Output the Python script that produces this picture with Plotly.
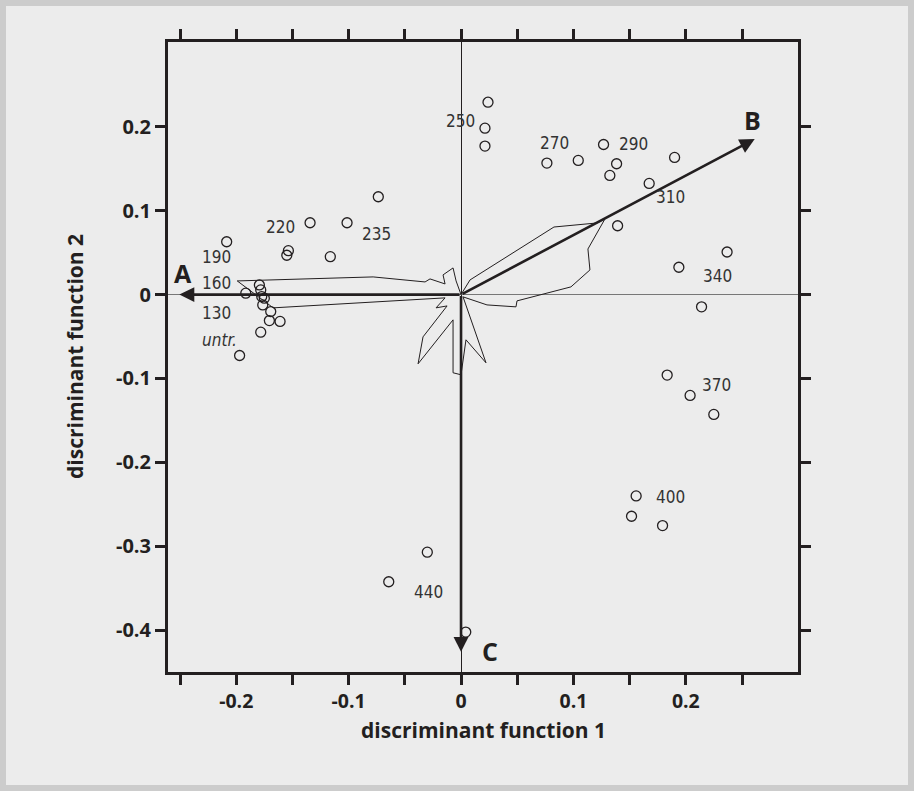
import plotly.graph_objects as go

# ---- data ----
pt_x = [-0.2085, -0.1915, -0.1794, -0.1782, -0.1773, -0.1750, -0.1764, -0.1693, -0.1705, -0.1610, -0.1782, -0.1970,
        -0.1536, -0.1550, -0.1343, -0.1014, -0.1163, -0.0736,
        0.0240, 0.0213, 0.0213,
        0.0764, 0.1043, 0.1268, 0.1384, 0.1324, 0.1900, 0.1674, 0.1393,
        0.2367, 0.1938, 0.2140,
        0.1834, 0.2038, 0.2249,
        0.1558, 0.1517, 0.1793,
        -0.0300, -0.0643, 0.0042]
pt_y = [0.0630, 0.0017, 0.0115, 0.0056, -0.0024, -0.0043, -0.0123, -0.0202, -0.0310, -0.0320, -0.0448, -0.0726,
        0.0524, 0.0469, 0.0857, 0.0857, 0.0452, 0.1167,
        0.2294, 0.1985, 0.1771,
        0.1568, 0.1600, 0.1790, 0.1560, 0.1421, 0.1636, 0.1326, 0.0821,
        0.0508, 0.0326, -0.0146,
        -0.0960, -0.1202, -0.1429,
        -0.2400, -0.2643, -0.2754,
        -0.3071, -0.3424, -0.4024]

poly_x = [0, 0.0080, 0.0827, 0.1209, 0.1280, 0.1129, 0.1147, 0.0978, 0.0498, 0.0489, 0.0231, 0.0018,
          0.0222, 0.0044, 0.0, -0.0071, -0.0071, -0.0382, -0.0338, -0.0124, -0.0222, -0.0142,
          -0.1671, -0.1902, -0.1991, -0.0782, -0.0320, -0.0276, -0.0142, -0.0160, -0.0071, -0.0044, 0]
poly_y = [0, 0.0175, 0.0806, 0.0854, 0.0901, 0.0544, 0.0294, 0.0092, -0.0075, -0.0146, -0.0123, -0.0027,
          -0.0813, -0.0539, -0.0956, -0.0932, -0.0301, -0.0825, -0.0504, -0.0135, -0.0158, -0.0039,
          -0.0158, 0.0068, 0.0163, 0.0211, 0.0151, 0.0187, 0.0127, 0.0235, 0.0318, 0.0163, 0]

arrow_names = ["A", "B", "C"]
arrow_x = [-0.2506, 0.2613, 0.0]
arrow_y = [0.0, 0.1854, -0.426]
arrow_lbl_x = [-0.2471, 0.2596, 0.0258]
arrow_lbl_y = [0.0258, 0.2080, -0.4253]

lbl_text = ["190", "160", "130", "<i>untr.</i>", "220", "235", "250", "270", "290", "310", "340", "370", "400", "440"]
lbl_x = [-0.2172, -0.2172, -0.2172, -0.2148, -0.1609, -0.0756, -0.0009, 0.0836, 0.1538, 0.1867, 0.2284, 0.2276, 0.1867, -0.0293]
lbl_y = [0.0452, 0.0136, -0.0214, -0.0539, 0.0810, 0.0723, 0.2068, 0.1806, 0.1794, 0.1163, 0.0223, -0.1075, -0.2408, -0.3551]

x_ticks = [-0.25, -0.2, -0.15, -0.1, -0.05, 0, 0.05, 0.1, 0.15, 0.2, 0.25]
x_tick_text = ["", "-0.2", "", "-0.1", "", "0", "", "0.1", "", "0.2", ""]
y_ticks = [0.2, 0.1, 0, -0.1, -0.2, -0.3, -0.4]
y_tick_text = ["0.2", "0.1", "0", "-0.1", "-0.2", "-0.3", "-0.4"]

x_title = "discriminant function 1"
y_title = "discriminant function 2"

INK = "#231f20"
BG = "#ececec"
bold_font = "Open Sans, Noto Sans, sans-serif"
cond_font = "Liberation Sans Narrow, DejaVu Sans Condensed, Open Sans, sans-serif"

fig = go.Figure()

fig.add_trace(go.Scatter(x=poly_x, y=poly_y, mode="lines",
                         line=dict(color=INK, width=1), hoverinfo="skip", showlegend=False))

fig.add_trace(go.Scatter(x=pt_x, y=pt_y, mode="markers",
                         marker=dict(symbol="circle-open", size=10, color=INK, line=dict(width=1.3, color=INK)),
                         showlegend=False))

annotations = []
for ax_, ay_ in zip(arrow_x, arrow_y):
    annotations.append(dict(x=ax_, y=ay_, ax=0, ay=0, xref="x", yref="y", axref="x", ayref="y",
                            showarrow=True, arrowhead=2, arrowsize=1.15, arrowwidth=2.6,
                            arrowcolor=INK, text="", standoff=0, startstandoff=0))
for n, lx, ly in zip(arrow_names, arrow_lbl_x, arrow_lbl_y):
    annotations.append(dict(x=lx, y=ly, xref="x", yref="y", text="<b>%s</b>" % n, showarrow=False,
                            font=dict(family=bold_font, size=25, color=INK)))
for t, lx, ly in zip(lbl_text, lbl_x, lbl_y):
    annotations.append(dict(x=lx, y=ly, xref="x", yref="y", text=t, showarrow=False,
                            font=dict(family=cond_font, size=17, color="#333333")))
# axis titles
annotations.append(dict(x=0.5, y=(672 - 730) / 630, xref="paper", yref="paper", text="<b>%s</b>" % x_title,
                        showarrow=False, xanchor="center", yanchor="middle",
                        font=dict(family=bold_font, size=21, color=INK)))
annotations.append(dict(x=(75 - 168) / 630, y=0.5, xref="paper", yref="paper", text="<b>%s</b>" % y_title,
                        showarrow=False, xanchor="center", yanchor="middle", textangle=-90,
                        font=dict(family=bold_font, size=21, color=INK)))

fig.update_layout(
    width=914, height=791,
    margin=dict(l=168, r=116, t=42, b=119),
    paper_bgcolor=BG, plot_bgcolor=BG,
    annotations=annotations,
    shapes=[dict(type="rect", xref="paper", yref="paper",
                 x0=-165/630, x1=(911 - 168) / 630, y0=(672 - 788) / 630, y1=(672 - 3) / 630,
                 line=dict(color="#cccccc", width=6), fillcolor="rgba(0,0,0,0)", layer="below")],
)

fig.update_xaxes(range=[-0.2607, 0.2998], tickmode="array", tickvals=x_ticks,
                 ticktext=["<b>%s</b>" % t if t else "" for t in x_tick_text],
                 ticks="outside", ticklen=10, tickwidth=2.5, tickcolor=INK,
                 showline=True, linecolor=INK, linewidth=3, mirror="ticks",
                 showgrid=False, zeroline=True, zerolinecolor=INK, zerolinewidth=1,
                 tickfont=dict(family=bold_font, size=19.5, color=INK))
fig.update_yaxes(range=[-0.45, 0.3012], tickmode="array", tickvals=y_ticks,
                 ticktext=["<b>%s</b>" % t for t in y_tick_text],
                 ticks="outside", ticklen=10, tickwidth=2.5, tickcolor=INK,
                 showline=True, linecolor=INK, linewidth=3, mirror="ticks",
                 showgrid=False, zeroline=True, zerolinecolor="#777777", zerolinewidth=1,
                 tickfont=dict(family=bold_font, size=20, color=INK))

fig.write_html("out.html")
